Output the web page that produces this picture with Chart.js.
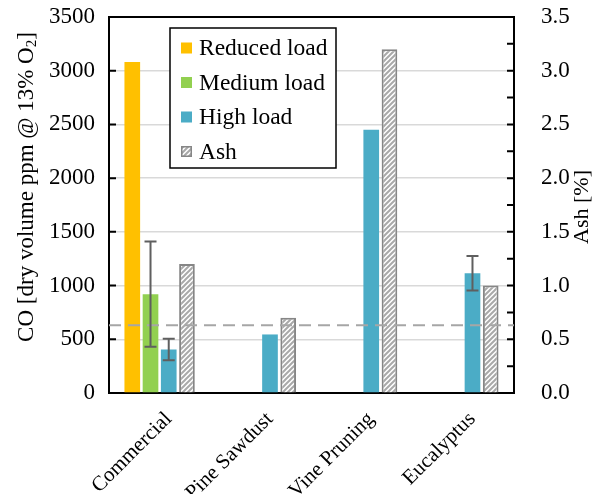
<!DOCTYPE html>
<html>
<head>
<meta charset="utf-8">
<script src="https://cdn.jsdelivr.net/npm/chart.js@4/dist/chart.umd.min.js"></script>
<style>
  html, body { margin: 0; padding: 0; background: #fff; }
  canvas { display: block; }
</style>
</head>
<body>
<canvas id="chart" width="594" height="494"></canvas>
<script>
// Fuel types
const categories = ['Commercial', 'Pine Sawdust', 'Vine Pruning', 'Eucalyptus'];

// CO emissions [ppm, dry, 13% O2] per load level
const reducedLoad = [3080, null, null, null];
const mediumLoad  = [920, null, null, null];
const highLoad    = [405, 545, 2450, 1115];

// Standard deviations for the CO values
const mediumLoadErr = [490, null, null, null];
const highLoadErr   = [100, null, null, 160];

// Ash content of each fuel [%]
const ashContent = [1.2, 0.7, 3.2, 1.0];

// Axis ranges and tick spacing
const coMax = 3500, coStep = 500;
const ashMax = 3.5, ashStep = 0.5, ashMinorStep = 0.25;

// Horizontal reference level on the CO axis
const coReference = 630;

const SERIF = '"Liberation Serif", "Times New Roman", serif';
const colors = {
  reduced: '#FFC000',
  medium: '#92D050',
  high: '#4BACC6',
  ashEdge: '#868686'
};

// Diagonal hatch used for the ash bars
function makeHatch() {
  const c = document.createElement('canvas');
  c.width = 5; c.height = 5;
  const g = c.getContext('2d');
  g.fillStyle = '#ffffff';
  g.fillRect(0, 0, 5, 5);
  g.strokeStyle = '#a9a9a9';
  g.lineWidth = 2;
  g.beginPath();
  g.moveTo(-1, 6); g.lineTo(6, -1);
  g.moveTo(-4, 4); g.lineTo(4, -4);
  g.moveTo(1, 9); g.lineTo(9, 1);
  g.stroke();
  return g.createPattern(c, 'repeat');
}
const hatch = makeHatch();

// Error bars for datasets that carry an "errors" array
const errorBarsPlugin = {
  id: 'errorBars',
  afterDatasetsDraw(chart) {
    const ctx = chart.ctx;
    chart.data.datasets.forEach((ds, i) => {
      if (!ds.errors) return;
      const meta = chart.getDatasetMeta(i);
      const scale = chart.scales[ds.yAxisID || 'y'];
      ds.errors.forEach((err, j) => {
        const v = ds.data[j];
        if (err == null || v == null) return;
        const x = meta.data[j].x;
        const yTop = scale.getPixelForValue(v + err);
        const yBot = scale.getPixelForValue(v - err);
        ctx.save();
        ctx.strokeStyle = '#5f5f5f';
        ctx.lineWidth = 2;
        ctx.beginPath();
        ctx.moveTo(x, yTop); ctx.lineTo(x, yBot);
        ctx.moveTo(x - 6, yTop); ctx.lineTo(x + 6, yTop);
        ctx.moveTo(x - 6, yBot); ctx.lineTo(x + 6, yBot);
        ctx.stroke();
        ctx.restore();
      });
    });
  }
};

// Dashed reference line across the plot
const referenceLinePlugin = {
  id: 'referenceLine',
  afterDatasetsDraw(chart) {
    const { ctx, chartArea, scales } = chart;
    const y = scales.y.getPixelForValue(coReference);
    ctx.save();
    ctx.strokeStyle = '#a6a6a6';
    ctx.lineWidth = 2;
    ctx.setLineDash([12, 7]);
    ctx.beginPath();
    ctx.moveTo(chartArea.left, y);
    ctx.lineTo(chartArea.right, y);
    ctx.stroke();
    ctx.restore();
  }
};

// Top frame line and inward tick marks on both value axes
const framePlugin = {
  id: 'frame',
  afterDraw(chart) {
    const { ctx, chartArea, scales } = chart;
    ctx.save();
    ctx.strokeStyle = '#000';
    ctx.lineWidth = 2;
    ctx.beginPath();
    ctx.moveTo(chartArea.left - 1, chartArea.top);
    ctx.lineTo(chartArea.right + 1, chartArea.top);
    for (let v = 0; v <= coMax; v += coStep) {
      const y = scales.y.getPixelForValue(v);
      ctx.moveTo(chartArea.left, y);
      ctx.lineTo(chartArea.left + 7, y);
    }
    for (let v = 0; v <= ashMax + 1e-9; v += ashMinorStep) {
      const y = scales.y1.getPixelForValue(v);
      ctx.moveTo(chartArea.right, y);
      ctx.lineTo(chartArea.right - 7, y);
    }
    ctx.stroke();
    ctx.restore();
  }
};

// Axis titles, both reading bottom to top
const axisTitlesPlugin = {
  id: 'axisTitles',
  afterDraw(chart) {
    const ctx = chart.ctx;
    ctx.save();
    ctx.fillStyle = '#000';
    ctx.textBaseline = 'middle';

    // Left title with subscript
    const main = 'CO [dry volume ppm @ 13% O';
    const sub = '2';
    const tail = ']';
    const big = '23px ' + SERIF, small = '15px ' + SERIF;
    ctx.font = big;
    const wMain = ctx.measureText(main).width;
    const wTail = ctx.measureText(tail).width;
    ctx.font = small;
    const wSub = ctx.measureText(sub).width;
    const total = wMain + wSub + wTail;
    ctx.save();
    ctx.translate(27, 187);
    ctx.rotate(-Math.PI / 2);
    let x = -total / 2;
    ctx.font = big;
    ctx.textAlign = 'left';
    ctx.fillText(main, x, 0);
    x += wMain;
    ctx.font = small;
    ctx.fillText(sub, x, 5);
    x += wSub;
    ctx.font = big;
    ctx.fillText(tail, x, 0);
    ctx.restore();

    // Right title
    ctx.save();
    ctx.translate(582, 207);
    ctx.rotate(-Math.PI / 2);
    ctx.font = '22px ' + SERIF;
    ctx.textAlign = 'center';
    ctx.fillText('Ash [%]', 0, 0);
    ctx.restore();

    ctx.restore();
  }
};

// Boxed legend inside the plot area
const boxLegendPlugin = {
  id: 'boxLegend',
  afterDraw(chart) {
    const { ctx, chartArea } = chart;
    const left = chartArea.left + 61, top = chartArea.top + 11;
    const w = 166, h = 140, rowH = 34.5;
    ctx.save();
    ctx.fillStyle = '#fff';
    ctx.fillRect(left, top, w, h);
    ctx.strokeStyle = '#000';
    ctx.lineWidth = 1.5;
    ctx.strokeRect(left, top, w, h);
    ctx.font = '23.5px ' + SERIF;
    ctx.textBaseline = 'middle';
    ctx.textAlign = 'left';
    chart.data.datasets.forEach((ds, i) => {
      const cy = top + 20 + i * rowH;
      const sx = left + 11, sy = cy - 5.5;
      ctx.fillStyle = ds.backgroundColor;
      ctx.fillRect(sx, sy, 11, 11);
      if (ds.borderWidth) {
        ctx.strokeStyle = ds.borderColor;
        ctx.lineWidth = 1.5;
        ctx.strokeRect(sx + 0.75, sy + 0.75, 9.5, 9.5);
      }
      ctx.fillStyle = '#000';
      ctx.fillText(ds.label, left + 29, cy + 1);
    });
    ctx.restore();
  }
};

const barShape = { categoryPercentage: 0.72, barPercentage: 0.86 };

new Chart(document.getElementById('chart'), {
  type: 'bar',
  data: {
    labels: categories,
    datasets: [
      { label: 'Reduced load', data: reducedLoad, backgroundColor: colors.reduced, yAxisID: 'y', ...barShape },
      { label: 'Medium load', data: mediumLoad, errors: mediumLoadErr, backgroundColor: colors.medium, yAxisID: 'y', ...barShape },
      { label: 'High load', data: highLoad, errors: highLoadErr, backgroundColor: colors.high, yAxisID: 'y', ...barShape },
      { label: 'Ash', data: ashContent, backgroundColor: hatch, borderColor: colors.ashEdge, borderWidth: 2, yAxisID: 'y1', ...barShape }
    ]
  },
  options: {
    responsive: false,
    animation: false,
    devicePixelRatio: 1,
    layout: { padding: { top: 17, left: 0, right: 0, bottom: 0 } },
    plugins: {
      legend: { display: false },
      tooltip: { enabled: false }
    },
    scales: {
      x: {
        grid: { display: false, drawTicks: false },
        border: { display: true, color: '#000', width: 2 },
        ticks: {
          color: '#000',
          font: { family: SERIF, size: 21 },
          minRotation: 45,
          maxRotation: 45,
          padding: 14,
          labelOffset: 9
        },
        afterFit(s) { s.height = 101; }
      },
      y: {
        position: 'left',
        min: 0,
        max: coMax,
        grid: {
          color: '#d9d9d9', lineWidth: 1.5,
          drawTicks: true, tickLength: 12, tickColor: 'rgba(0,0,0,0)'
        },
        border: { display: true, color: '#000', width: 2 },
        ticks: {
          stepSize: coStep,
          color: '#000',
          font: { family: SERIF, size: 23 },
          padding: 2,
          callback: v => String(v)
        },
        afterFit(s) { s.width = 109; }
      },
      y1: {
        position: 'right',
        min: 0,
        max: ashMax,
        grid: {
          display: true, drawOnChartArea: false,
          drawTicks: true, tickLength: 25, tickColor: 'rgba(0,0,0,0)'
        },
        border: { display: true, color: '#000', width: 2 },
        ticks: {
          stepSize: ashStep,
          color: '#000',
          font: { family: SERIF, size: 23 },
          padding: 2,
          callback: v => Number(v).toFixed(1)
        },
        afterFit(s) { s.width = 80; }
      }
    }
  },
  plugins: [referenceLinePlugin, errorBarsPlugin, framePlugin, axisTitlesPlugin, boxLegendPlugin]
});
</script>
</body>
</html>
